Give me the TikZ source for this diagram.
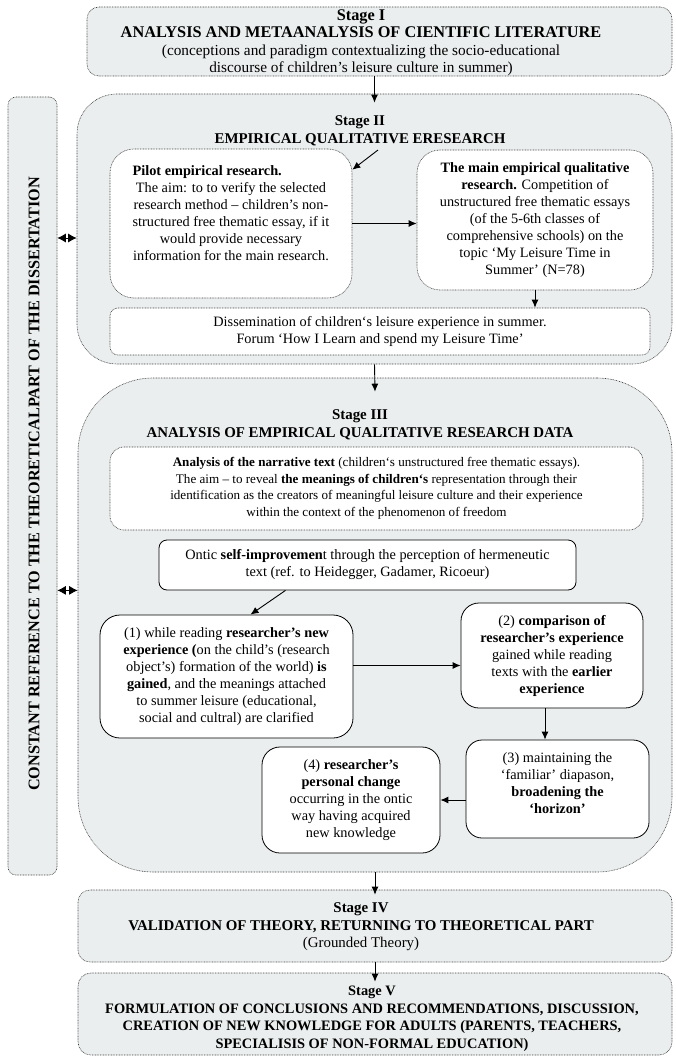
\documentclass[tikz,border=0pt]{standalone}
\usepackage{fontspec}
\setmainfont{Liberation Serif}
\usepackage{tikz}
\usetikzlibrary{arrows.meta}

\definecolor{stagegray}{RGB}{235,238,238}

\tikzset{
  boxfont/.style={font=\fontsize{14.3}{17}\selectfont, inner sep=0pt},
  txt/.style={boxfont, align=center},
  ttl/.style={txt, font=\fontsize{14.9}{17.5}\selectfont\bfseries},
  stagebox/.style={draw=black!75, line width=0.6pt, dash pattern=on 0.8pt off 0.8pt, fill=stagegray, inner sep=0pt},
  dotbox/.style={stagebox, fill=white, boxfont},
  linebox/.style={draw=black, line width=0.8pt, fill=white, boxfont},
  arr/.style={-{Latex[length=8pt,width=7pt]}, line width=0.9pt},
  dblarr/.style={{Latex[length=8.5pt,width=9pt]}-{Latex[length=8.5pt,width=9pt]}, line width=0.9pt},
}
\newcommand{\parenfont}{\fontsize{15.3}{17.5}\selectfont\mdseries}

\begin{document}
\begin{tikzpicture}[x=1pt, y=-1pt]
    \useasboundingbox (0,0) rectangle (675,1056);

    % stage frames
    \node[stagebox, rounded corners=12pt, minimum width=585pt, minimum height=69pt] (s1) at (379.5,41.5) {};
    \node[stagebox, rounded corners=40pt, minimum width=595pt, minimum height=270pt] (s2) at (374.5,229) {};
    \node[stagebox, rounded corners=75pt, minimum width=594pt, minimum height=494pt] (s3) at (375,625) {};
    \node[stagebox, rounded corners=12pt, minimum width=594pt, minimum height=72pt] (s4) at (375,926) {};
    \node[stagebox, rounded corners=13pt, minimum width=594pt, minimum height=82pt] (s5) at (375,1014) {};
    \node[stagebox, rounded corners=8pt, minimum width=49pt, minimum height=778pt] (ref) at (32.5,486) {};

    % stage titles
    \node[ttl, font=\fontsize{16.3}{17.5}\selectfont\bfseries] (s1txt) at (361,42.5) {Stage I\\ ANALYSIS AND METAANALYSIS OF CIENTIFIC LITERATURE\\ \parenfont (conceptions and paradigm contextualizing the socio-educational\\ \parenfont discourse of children’s leisure culture in summer)};
    \node[ttl] (s2txt) at (360,131) {Stage II\\ EMPIRICAL QUALITATIVE ERESEARCH};
    \node[ttl] (s3txt) at (360,425) {Stage III\\ ANALYSIS OF EMPIRICAL QUALITATIVE RESEARCH DATA};
    \node[ttl] (s4txt) at (361,927) {Stage IV\\ VALIDATION OF THEORY, RETURNING TO THEORETICAL PART\\ \mdseries (Grounded Theory)};
    \node[ttl, font=\fontsize{14.4}{17.5}\selectfont\bfseries] (s5txt) at (372,1019) {Stage V\\ FORMULATION OF CONCLUSIONS AND RECOMMENDATIONS, DISCUSSION,\\ CREATION OF NEW KNOWLEDGE FOR ADULTS (PARENTS, TEACHERS,\\ SPECIALISIS OF NON-FORMAL EDUCATION)};
    \node[ttl, rotate=90, font=\fontsize{16.2}{17}\selectfont\bfseries] (reftxt) at (34,484) {CONSTANT REFERENCE TO THE THEORETICALPART OF THE DISSERTATION};

    % stage II boxes
    \node[dotbox, rounded corners=24pt, minimum width=242pt, minimum height=149pt] (pilot) at (231,223.5) {\begin{tabular}{@{}c@{}}\multicolumn{1}{@{}l@{}}{\bfseries Pilot empirical research.}\\ The aim: to to verify the selected\\ research method – children’s non-\\ structured free thematic essay, if it\\ would provide necessary\\ information for the main research.\\ \mbox{}\end{tabular}};
    \node[dotbox, txt, rounded corners=23pt, minimum width=236pt, minimum height=140pt] (main) at (535,220) {\textbf{The main empirical qualitative}\\ \textbf{research.} Competition of\\ unstructured free thematic essays\\ (of the 5-6th classes of\\ comprehensive schools) on the\\ topic ‘My Leisure Time in\\ Summer’ (N=78)};
    \node[dotbox, txt, rounded corners=8pt, minimum width=540pt, minimum height=47pt] (dissem) at (380,331.5) {Dissemination of children‘s leisure experience in summer.\\ Forum ‘How I Learn and spend my Leisure Time’};

    % stage III boxes
    \node[dotbox, txt, font=\fontsize{13.1}{16.5}\selectfont, rounded corners=14pt, minimum width=533pt, minimum height=83pt] (narr) at (376.5,488.5) {\textbf{Analysis of the narrative text} (children‘s unstructured free thematic essays).\\ The aim – to reveal \textbf{the meanings of children‘s} representation through their\\ identification as the creators of meaningful leisure culture and their experience\\ within the context of the phenomenon of freedom};
    \node[linebox, txt, rounded corners=8pt, minimum width=417pt, minimum height=50pt] (ontic) at (367.5,565) {Ontic \textbf{self-improvemen}t through the perception of hermeneutic\\ text (ref. to Heidegger, Gadamer, Ricoeur)};
    \node[linebox, txt, rounded corners=20pt, minimum width=253pt, minimum height=123pt] (one) at (226.5,676.5) {(1) while reading \textbf{researcher’s new}\\ \textbf{experience (}on the child’s (research\\ object’s) formation of the world) \textbf{is}\\ \textbf{gained}, and the meanings attached\\ to summer leisure (educational,\\ social and cultral) are clarified};
    \node[linebox, txt, rounded corners=18pt, minimum width=182pt, minimum height=105pt] (two) at (552,655.5) {(2) \textbf{comparison of}\\ \textbf{researcher’s experience}\\ gained while reading\\ texts with the \textbf{earlier}\\ \textbf{experience}};
    \node[linebox, txt, rounded corners=16pt, minimum width=183pt, minimum height=98pt] (three) at (557.5,789) {(3) maintaining the\\ ‘familiar’ diapason,\\ \textbf{broadening the}\\ \textbf{‘horizon’}\\[-5pt] \mbox{}};
    \node[linebox, txt, rounded corners=18pt, minimum width=178pt, minimum height=106pt] (four) at (351,800) {(4) \textbf{researcher’s}\\ \textbf{personal change}\\ occurring in the ontic\\ way having acquired\\ new knowledge};

    % Connections
    \coordinate (s2in) at (378,150);
    \draw[arr] (s1.south -| s2.north) -- ([yshift=-9pt]s2.north);
    \draw[arr] (s2in) -- ([yshift=-21pt]pilot.north east);
    \draw[arr] (pilot.east) -- (pilot.east -| main.west);
    \draw[arr] (main.south) -- (main.south |- dissem.north);
    \draw[arr] (s2.south) -- ([yshift=-14pt]s3.north);
    \draw[arr] ([xshift=-82pt]ontic.south) -- ([xshift=24pt]one.north);
    \draw[arr] ([yshift=11pt]one.east) -- ([yshift=11pt]one.east -| two.west);
    \draw[arr] ([xshift=-7pt]two.south) -- ([xshift=-7pt]two.south |- three.north);
    \draw[arr] (three.west |- four.east) -- (four.east);
    \draw[arr] (s3.south) -- ([yshift=-5pt]s4.north);
    \draw[arr] (s4.south) -- ([yshift=-9pt]s5.north);

    % reference to theory
    \draw[dblarr] ([yshift=-9pt]s2.west -| ref.east) -- ([yshift=-9pt]s2.west);
    \draw[dblarr] (ref.east |- ontic.south) -- (s3.west |- ontic.south);
\end{tikzpicture}
\end{document}
